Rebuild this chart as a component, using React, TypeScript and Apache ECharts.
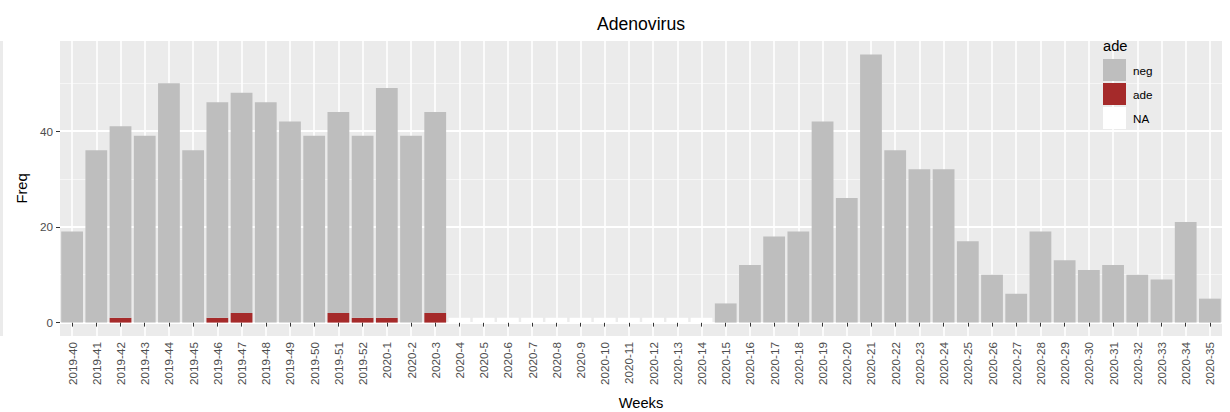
import React, { useEffect, useRef } from "react";
import * as echarts from "echarts";

const weeks = [
  "2019-40", "2019-41", "2019-42", "2019-43", "2019-44", "2019-45", "2019-46", "2019-47",
  "2019-48", "2019-49", "2019-50", "2019-51", "2019-52", "2020-1", "2020-2", "2020-3",
  "2020-4", "2020-5", "2020-6", "2020-7", "2020-8", "2020-9", "2020-10", "2020-11",
  "2020-12", "2020-13", "2020-14", "2020-15", "2020-16", "2020-17", "2020-18", "2020-19",
  "2020-20", "2020-21", "2020-22", "2020-23", "2020-24", "2020-25", "2020-26", "2020-27",
  "2020-28", "2020-29", "2020-30", "2020-31", "2020-32", "2020-33", "2020-34", "2020-35",
];

const negValues = [
  19, 36, 40, 39, 50, 36, 45, 46, 46, 42, 39, 42, 38, 48, 39, 42,
  null, null, null, null, null, null, null, null, null, null, null,
  4, 12, 18, 19, 42, 26, 56, 36, 32, 32, 17, 10, 6, 19, 13, 11, 12, 10, 9, 21, 5,
];

const adeValues = [
  0, 0, 1, 0, 0, 0, 1, 2, 0, 0, 0, 2, 1, 1, 0, 2,
  null, null, null, null, null, null, null, null, null, null, null,
  0, 0, 0, 0, 0, 0, 0, 0, 0, 0, 0, 0, 0, 0, 0, 0, 0, 0, 0, 0, 0,
];

const naValues = [
  null, null, null, null, null, null, null, null, null, null, null, null, null, null, null, null,
  1, 1, 1, 1, 1, 1, 1, 1, 1, 1, 1,
  null, null, null, null, null, null, null, null, null, null, null, null, null, null, null, null, null, null, null, null, null,
];

const yMajorTicks = [0, 20, 40];
const yMinorTicks = [10, 30, 50];

const FONT = "'Liberation Sans', Arial, sans-serif";

export default function App() {
  const ref = useRef<HTMLDivElement>(null);

  useEffect(() => {
    if (!ref.current) return;
    const chart = echarts.init(ref.current, null, { renderer: "svg" });
    const option: any = {
      animation: false,
      backgroundColor: "#ffffff",
      textStyle: { fontFamily: FONT },
      title: {
        text: "Adenovirus",
        left: 641,
        top: 15,
        textAlign: "center",
        padding: 0,
        textStyle: { fontSize: 17.6, fontWeight: "normal", color: "#000000", fontFamily: FONT },
      },
      grid: {
        left: 60,
        top: 41,
        width: 1162,
        height: 295,
        show: true,
        backgroundColor: "#EBEBEB",
        borderWidth: 0,
        containLabel: false,
        outerBoundsMode: "none",
      },
      legend: {
        data: ["neg", "ade", "NA"],
        orient: "vertical",
        left: 1103,
        top: 59,
        padding: 0,
        itemWidth: 23,
        itemHeight: 22,
        itemGap: 2,
        icon: "rect",
        selectedMode: false,
        z: 20,
        textStyle: { fontSize: 11.7, color: "#000000", fontFamily: FONT, padding: [3, 0, 0, 2] },
      },
      graphic: [
        {
          type: "text",
          left: 1103,
          top: 38,
          z: 100,
          style: { text: "ade", fontSize: 14.7, fill: "#000000", fontFamily: FONT },
        },
        {
          type: "rect",
          shape: { x: 0, y: 41, width: 3, height: 295 },
          style: { fill: "#EBEBEB" },
          z: -1,
        },
      ],
      xAxis: {
        type: "category",
        data: weeks,
        name: "Weeks",
        nameLocation: "middle",
        nameGap: 59,
        nameTextStyle: { fontSize: 14.7, color: "#000000", fontFamily: FONT },
        axisLine: { show: false },
        axisTick: {
          show: true,
          alignWithLabel: true,
          interval: 0,
          length: 4,
          lineStyle: { color: "#333333", width: 1 },
        },
        axisLabel: {
          interval: 0,
          rotate: 90,
          margin: 6,
          fontSize: 11.7,
          color: "#4D4D4D",
          fontFamily: FONT,
        },
        splitLine: {
          show: true,
          alignWithLabel: true,
          interval: 0,
          lineStyle: { color: "#FFFFFF", width: 1.6 },
        },
      },
      yAxis: [
        {
          type: "value",
          min: -2.8,
          max: 58.8,
          name: "Freq",
          nameLocation: "middle",
          nameGap: 27,
          nameRotate: 90,
          nameTextStyle: { fontSize: 14.7, color: "#000000", fontFamily: FONT },
          axisLine: { show: false },
          axisTick: {
            show: true,
            length: 4,
            customValues: yMajorTicks,
            lineStyle: { color: "#333333", width: 1 },
          },
          axisLabel: {
            customValues: yMajorTicks,
            margin: 7,
            fontSize: 11.7,
            color: "#4D4D4D",
            fontFamily: FONT,
          },
          splitLine: { show: true, lineStyle: { color: "#FFFFFF", width: 1.8 } },
        },
        {
          type: "value",
          min: -2.8,
          max: 58.8,
          position: "left",
          axisLine: { show: false },
          axisTick: { show: false, customValues: yMinorTicks },
          axisLabel: { show: false, customValues: yMinorTicks },
          splitLine: { show: true, lineStyle: { color: "#F7F7F7", width: 0.9 } },
        },
      ],
      series: [
        {
          name: "ade",
          type: "bar",
          stack: "total",
          data: adeValues,
          barCategoryGap: "10%",
          itemStyle: { color: "#A52A2A" },
        },
        {
          name: "neg",
          type: "bar",
          stack: "total",
          data: negValues,
          barCategoryGap: "10%",
          itemStyle: { color: "#BEBEBE" },
        },
        {
          name: "NA",
          type: "bar",
          stack: "total",
          data: naValues,
          barCategoryGap: "10%",
          itemStyle: { color: "#FFFFFF" },
        },
      ],
    };
    chart.setOption(option);
    return () => chart.dispose();
  }, []);

  return (
    <div
      ref={ref}
      style={{ position: "absolute", left: 0, top: 0, width: 1230, height: 412 }}
    />
  );
}
